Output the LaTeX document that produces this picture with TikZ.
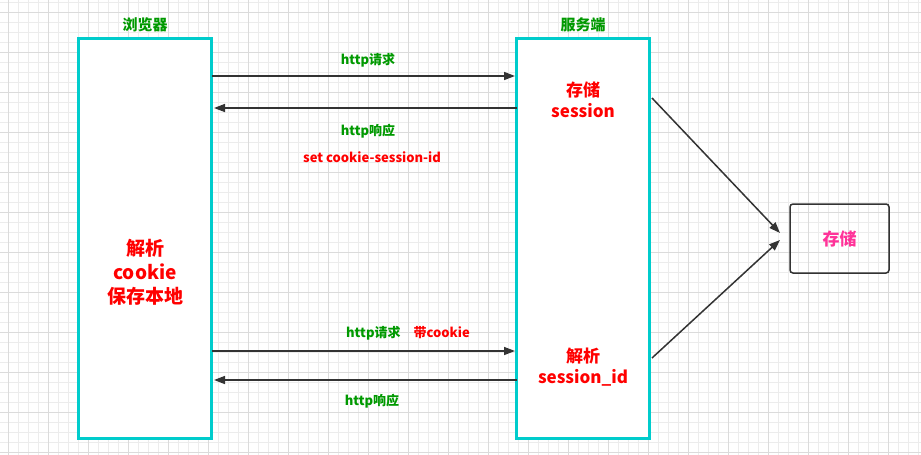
\documentclass[tikz,border=0pt]{standalone}
\usepackage{fontspec}
\setmainfont{Noto Sans CJK SC}
\usetikzlibrary{positioning,arrows.meta}
\definecolor{boxcyan}{HTML}{00CCCC}
\definecolor{txtgreen}{HTML}{009900}
\definecolor{txtred}{HTML}{FF0000}
\definecolor{txtpink}{HTML}{FF3399}
\definecolor{linegray}{HTML}{333333}
\tikzset{
  side/.style={draw=boxcyan,line width=3pt,fill=white,minimum width=133pt,minimum height=400pt,inner sep=0},
  title/.style={text=txtgreen,font=\bfseries\fontsize{15}{17}\selectfont},
  msg/.style={text=txtgreen,font=\bfseries\fontsize{13}{15}\selectfont},
  note/.style={text=txtred,font=\bfseries\fontsize{17}{21}\selectfont,align=center},
  call/.style={draw=linegray,line width=1.5pt,-{Triangle[length=11pt,width=8pt]}},
}
\begin{document}
\begin{tikzpicture}[x=1pt,y=-1pt]
  \useasboundingbox (0,0) rectangle (921,455);
  \fill[white] (0,0) rectangle (921,455);
  %% grid
  \foreach \i in {0,...,92} {
    \draw[gray!15,line width=0.6pt] (8+10*\i,0) -- (8+10*\i,455);
  }
  \foreach \j in {0,...,45} {
    \draw[gray!15,line width=0.6pt] (0,2+10*\j) -- (921,2+10*\j);
  }
  \foreach \i in {0,...,23} {
    \draw[gray!28,line width=0.8pt] (8+40*\i,0) -- (8+40*\i,455);
  }
  \foreach \j in {0,...,11} {
    \draw[gray!28,line width=0.8pt] (0,12+40*\j) -- (921,12+40*\j);
  }

  \node[side] (browser) at (145,238) {};
  \node[side] (server) at (583,238) {};
  \node[title,above=1pt of browser] {浏览器};
  \node[title,above=1pt of server] {服务端};

  \node[note,font=\bfseries\fontsize{19}{24}\selectfont] (parse) at (145,272) {解析\\cookie\\保存本地};
  \node[note] (save) at (583,100) {存储\\session};
  \node[note] (check) at (583,367) {解析\\session\_id};
  \node[draw=linegray,line width=1.5pt,rounded corners=3pt,minimum width=99pt,minimum height=69pt,
    text=txtpink,font=\bfseries\fontsize{17}{21}\selectfont] (store) at (839.5,238.5) {存储};

  %% requests and responses
  \coordinate (b1) at (212,76);  \coordinate (s1) at (515,76);
  \coordinate (s2) at (517,108); \coordinate (b2) at (214,108);
  \coordinate (b3) at (212,351); \coordinate (s3) at (515,351);
  \coordinate (s4) at (517,380); \coordinate (b4) at (214,380);
  \draw[call] (b1) -- (s1);
  \draw[call] (s2) -- (b2);
  \draw[call] (b3) -- (s3);
  \draw[call] (s4) -- (b4);
  \node[msg] at (368,60) {http请求};
  \node[msg] at (368,131) {http响应};
  \node[msg,text=txtred] at (372,157) {set cookie-session-id};
  \node[msg] at (408,333) {http请求\quad{\color{txtred}带cookie}};
  \node[msg] at (372,401) {http响应};

  %% to storage
  \coordinate (o1) at (652,98);
  \coordinate (o2) at (652,358);
  \draw[call] (o1) -- (780,233);
  \draw[call] (o2) -- (780,240);
\end{tikzpicture}
\end{document}
